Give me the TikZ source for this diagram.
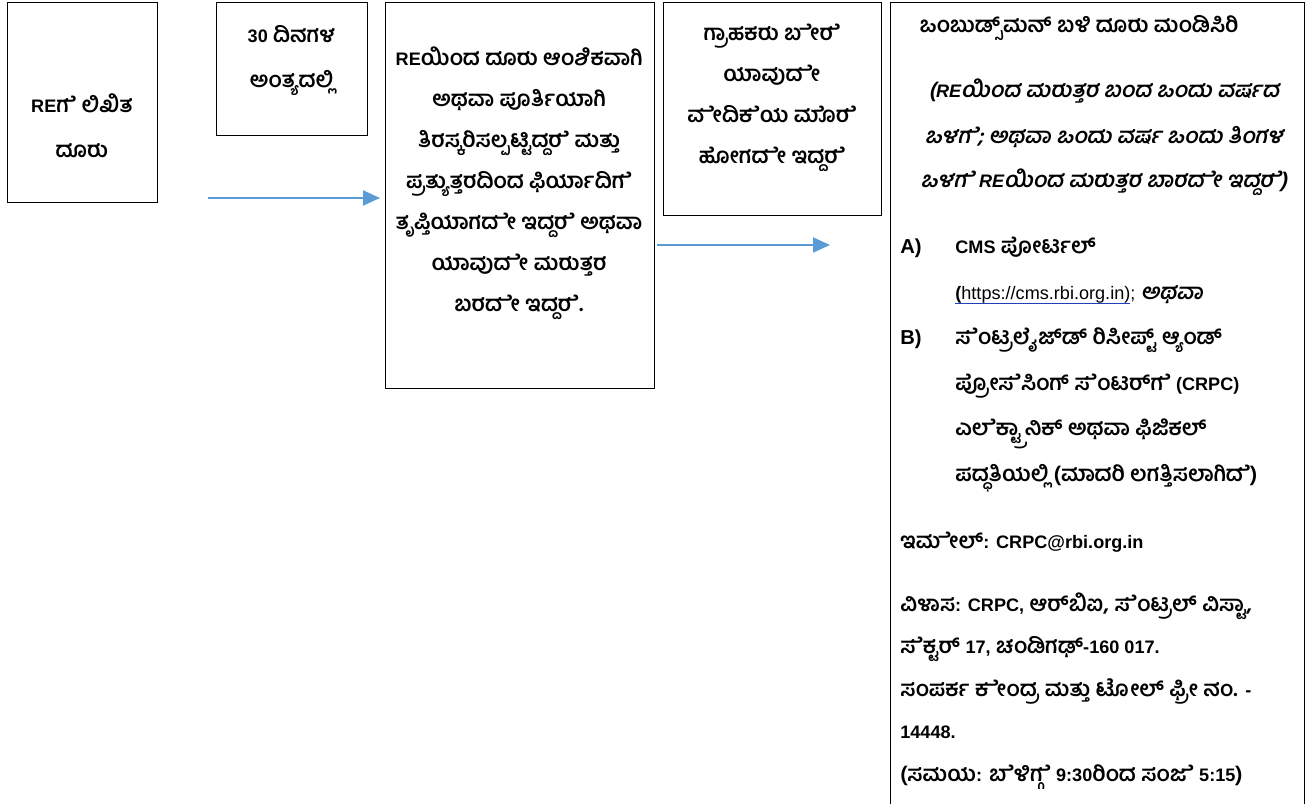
\documentclass[tikz,border=0pt]{standalone}
\usepackage{fontspec}
\setmainfont[Script=Kannada,Scale=1.2]{Hind Mysuru}
\newfontfamily\knslant[Script=Kannada,Scale=1.2,FakeSlant=0.2]{Hind Mysuru}
\newfontfamily\enfont{Liberation Sans}
\usetikzlibrary{arrows.meta,positioning}
\definecolor{arrowblue}{HTML}{5B9BD5}
\definecolor{linkblue}{HTML}{1F3FBF}
\newcommand{\en}[1]{{\enfont #1}}
\newcommand{\enit}[1]{{\enfont\itshape #1}}
\newcommand{\linkline}[1]{\setbox0\hbox{#1}\rlap{\color{linkblue}\rule[-2.4pt]{\wd0}{0.6pt}}\box0}
% vowel signs set as plain glyphs of the current font
\newcommand{\kE}{\XeTeXglyph\XeTeXcharglyph"0CC6\relax}
\newcommand{\kEE}{\XeTeXglyph\XeTeXcharglyph"0CC7\relax}
\newcommand{\kO}{\XeTeXglyph\XeTeXcharglyph"0CCA\relax}
\newcommand{\kEm}{\kE\XeTeXglyph\XeTeXcharglyph"0C82\relax}
\newcommand{\kEEm}{\kEE\XeTeXglyph\XeTeXcharglyph"0C82\relax}

\begin{document}
\begin{tikzpicture}[>={Triangle[length=3.4mm,width=3mm]},line cap=butt,
  box/.style={draw,line width=0.8pt,inner sep=0pt,anchor=north west},
  boxtext/.style={inner sep=0pt,align=center,anchor=north,font=\bfseries\fontsize{10.3pt}{#1}\selectfont},
  sidetext/.style={inner sep=0pt,align=left,anchor=north west,font=\bfseries\fontsize{10.3pt}{#1}\selectfont},
  flow/.style={->,draw=arrowblue,line width=1.1pt}]
\useasboundingbox (0,0) rectangle (26.18,16.08);
% boxes
\node[box,minimum width=3cm,minimum height=4cm] (written) at (0.14,16.04) {};
\node[box,minimum width=3.02cm,minimum height=2.66cm] (days) at (4.32,16.04) {};
\node[box,minimum width=5.38cm,minimum height=7.72cm] (reply) at (7.70,16.04) {};
\node[box,minimum width=4.36cm,minimum height=4.26cm] (forum) at (13.26,16.04) {};
\node[box,minimum width=8.28cm,minimum height=16.6cm] (ombud) at (17.80,16.04) {};
% texts
\node[boxtext=0.9cm] (writtentxt) at (1.64,14.22) {\en{RE}ಗ\kE{} ಲಿಖಿತ\\ದೂರು};
\node[boxtext=0.9cm] (daystxt) at (5.83,15.58) {\en{30} ದಿನಗಳ\\ಅಂತ್ಯದಲ್ಲಿ};
\node[boxtext=0.82cm] (replytxt) at (10.38,15.16) {\en{RE}ಯಿಂದ ದೂರು ಆಂಶಿಕವಾಗಿ\\ಅಥವಾ ಪೂರ್ತಿಯಾಗಿ\\
  ತಿರಸ್ಕರಿಸಲ್ಪಟ್ಟಿದ್ದರ\kE{} ಮತ್ತು\\ಪ್ರತ್ಯುತ್ತರದಿಂದ ಫಿರ್ಯಾದಿಗ\kE{}\\ತೃಪ್ತಿಯಾಗದ\kEE{} ಇದ್ದರ\kE{} ಅಥವಾ\\ಯಾವುದ\kEE{} ಮರುತ್ತರ\\ಬರದ\kEE{} ಇದ್ದರ\kE{}.};
\node[boxtext=0.82cm] (forumtxt) at (15.44,15.60) {ಗ್ರಾಹಕರು ಬ\kEE{}ರ\kE{}\\ಯಾವುದ\kEE{}\\ವ\kEE{}ದಿಕ\kE{}ಯ ಮ\kO{}ರ\kE{}\\ಹೋಗದ\kEE{} ಇದ್ದರ\kE{}};
\node[boxtext=0.9cm] (ombudtitle) at (21.58,15.78) {ಒಂಬುಡ್ಸ್^^^^200cಮನ್ ಬಳಿ ದೂರು ಮಂಡಿಸಿರಿ};
\node[boxtext=0.9cm,font=\knslant\bfseries\fontsize{10.3pt}{0.9cm}\selectfont] (ombudtime) at (22.08,14.50)
  {(\enit{RE}ಯಿಂದ ಮರುತ್ತರ ಬಂದ ಒಂದು ವರ್ಷದ\\ಒಳಗ\kE{}; ಅಥವಾ ಒಂದು ವರ್ಷ ಒಂದು ತಿಂಗಳ\\ಒಳಗ\kE{} \enit{RE}ಯಿಂದ ಮರುತ್ತರ ಬಾರದ\kEE{} ಇದ್ದರ\kE{})};
\node[sidetext=0.91cm] (ombudways) at (18.00,11.34)
  {\makebox[1.1cm][l]{\en{\fontsize{11.5pt}{1em}\selectfont A)}}\en{CMS} ಪೋರ್ಟಲ್\\
   \hspace*{1.1cm}\linkline{\en{(\mdseries https://cms.rbi.org.in)}}\en{\mdseries ;}\ {\knslant ಅಥವಾ}\\
   \makebox[1.1cm][l]{\en{\fontsize{11.5pt}{1em}\selectfont B)}}ಸ\kEm{}ಟ್ರಲೈಜ್^^^^200cಡ್ ರಿಸೀಪ್ಟ್ ಆ್ಯಂಡ್\\
   \hspace*{1.1cm}ಪ್ರೋಸ\kE{}ಸಿಂಗ್ ಸ\kEm{}ಟರ್^^^^200cಗ\kE{} \en{(CRPC)}\\
   \hspace*{1.1cm}ಎಲ\kE{}ಕ್ಟ್ರಾನಿಕ್ ಅಥವಾ ಫಿಜಿಕಲ್\\
   \hspace*{1.1cm}ಪದ್ಧತಿಯಲ್ಲಿ (ಮಾದರಿ ಲಗತ್ತಿಸಲಾಗಿದ\kE{})};
\node[sidetext=0.85cm] (ombudmail) at (18.00,5.44) {ಇಮ\kEE{}ಲ್\en{: CRPC@rbi.org.in}};
\node[sidetext=0.85cm] (ombudaddr) at (18.00,4.24)
  {ವಿಳಾಸ\en{: CRPC,} ಆರ್^^^^200cಬಿಐ, ಸ\kEm{}ಟ್ರಲ್ ವಿಸ್ಟಾ,\\
   ಸ\kE{}ಕ್ಟರ್ \en{17,} ಚಂಡಿಗಢ್\en{-160 017.}\\
   ಸಂಪರ್ಕ ಕ\kEEm{}ದ್ರ ಮತ್ತು ಟೋಲ್ ಫ್ರೀ ನಂ. \en{-}\\
   \en{14448.}\\
   (ಸಮಯ\en{:} ಬ\kE{}ಳಿಗ್ಗ\kE{} \en{9:30}ರಿಂದ ಸಂಜ\kE{} \en{5:15})};
% connectors
\coordinate (f1s) at (4.16,12.12);
\coordinate (f1e) at (7.60,12.12);
\coordinate (f2s) at (13.14,11.18);
\coordinate (f2e) at (16.60,11.18);
\draw[flow] (f1s) -- (f1e);
\draw[flow] (f2s) -- (f2e);
\end{tikzpicture}
\end{document}
